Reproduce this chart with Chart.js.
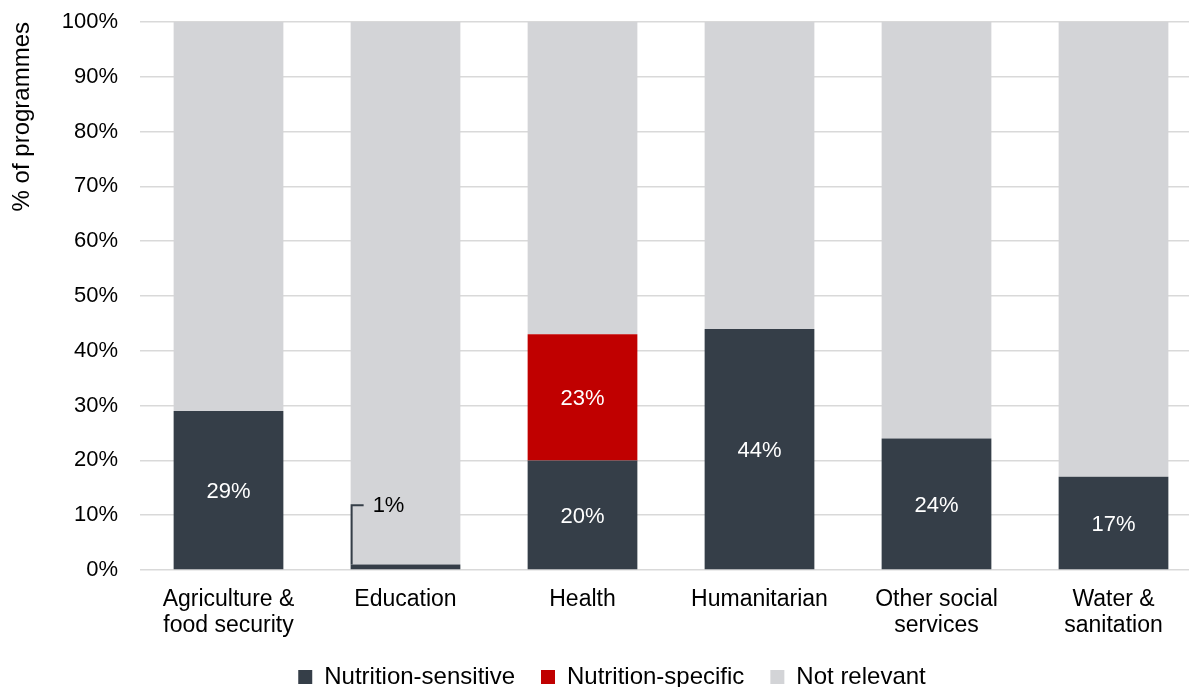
<!doctype html>
<html lang="en">
  <head>
    <meta charset="UTF-8" />
    <title>Programmes by sector</title>
    <style>
      html, body { margin: 0; padding: 0; background: #fff; overflow: hidden; }
      #wrap { width: 1202px; height: 699px; }
    </style>
  </head>
  <body>
    <div id="wrap">
      <canvas id="sectorChart" width="1202" height="699"></canvas>
    </div>
    <script src="https://cdn.jsdelivr.net/npm/chart.js"></script>
    <script>
      const sectors = [
        ["Agriculture &", "food security"],
        "Education",
        "Health",
        "Humanitarian",
        ["Other social", "services"],
        ["Water &", "sanitation"],
      ];
      const sensitive = [29, 1, 20, 44, 24, 17];
      const specific = [0, 0, 23, 0, 0, 0];
      const notRelevant = [71, 99, 57, 56, 76, 83];
      const yTicks = [0, 10, 20, 30, 40, 50, 60, 70, 80, 90, 100];

      const FONT = "'Liberation Sans', Arial, sans-serif";
      const DARK = "#353e48";
      const RED = "#c00000";
      const GREY = "#d3d4d7";

      // white % labels inside the segments, with a leader line for tiny ones
      const segmentLabels = {
        id: "segmentLabels",
        afterDatasetsDraw(chart) {
          const ctx = chart.ctx;
          ctx.save();
          ctx.font = "22px " + FONT;
          ctx.textBaseline = "middle";
          [0, 1].forEach((di) => {
            const meta = chart.getDatasetMeta(di);
            const values = chart.data.datasets[di].data;
            meta.data.forEach((bar, i) => {
              const v = values[i];
              if (!v) return;
              const text = Math.round(v) + "%";
              const h = Math.abs(bar.base - bar.y);
              if (h >= 24) {
                ctx.fillStyle = "#ffffff";
                ctx.textAlign = "center";
                ctx.fillText(text, bar.x, (bar.y + bar.base) / 2 + 2);
              } else {
                const left = bar.x - bar.width / 2 + 1;
                const ly = bar.base - 64;
                ctx.strokeStyle = DARK;
                ctx.lineWidth = 2;
                ctx.beginPath();
                ctx.moveTo(left, bar.y);
                ctx.lineTo(left, ly);
                ctx.lineTo(left + 12, ly);
                ctx.stroke();
                ctx.fillStyle = "#000000";
                ctx.textAlign = "left";
                ctx.fillText(text, left + 21, ly + 1);
              }
            });
          });
          ctx.restore();
        },
      };

      // nudge the legend row to the right a little
      const legendShift = {
        id: "legendShift",
        afterLayout(chart) {
          chart.legend.left += 7;
          chart.legend.right += 7;
        },
      };

      const ctx = document.getElementById("sectorChart").getContext("2d");
      new Chart(ctx, {
        type: "bar",
        data: {
          labels: sectors,
          datasets: [
            { label: "Nutrition-sensitive", data: sensitive, backgroundColor: DARK },
            { label: "Nutrition-specific", data: specific, backgroundColor: RED },
            { label: "Not relevant", data: notRelevant, backgroundColor: GREY },
          ],
        },
        options: {
          responsive: false,
          animation: false,
          devicePixelRatio: 1,
          categoryPercentage: 1,
          barPercentage: 0.62,
          layout: { padding: { top: 22, left: 8, right: 0, bottom: 0 } },
          plugins: {
            tooltip: { enabled: false },
            legend: {
              position: "bottom",
              labels: {
                color: "#000",
                font: { family: FONT, size: 24 },
                boxWidth: 14,
                boxHeight: 14,
                padding: 26,
              },
            },
          },
          scales: {
            x: {
              stacked: true,
              grid: { display: false, drawTicks: false },
              border: { display: false },
              ticks: {
                color: "#000",
                font: { family: FONT, size: 23, lineHeight: 1.13 },
                padding: 17,
                maxRotation: 0,
              },
              afterFit: (scale) => {
                scale.height = 69;
                scale.paddingLeft = 0;
                scale.paddingRight = 0;
              },
            },
            y: {
              stacked: true,
              min: 0,
              max: 100,
              afterBuildTicks: (axis) => {
                axis.ticks = yTicks.map((v) => ({ value: v }));
              },
              grid: { color: "#d9d9d9", lineWidth: 1.5, drawTicks: false },
              border: { display: false },
              ticks: {
                color: "#000",
                font: { family: FONT, size: 22 },
                padding: 22,
                callback: (v) => v + "%",
              },
              title: {
                display: true,
                text: "% of programmes",
                color: "#000",
                align: "end",
                font: { family: FONT, size: 24 },
                padding: { top: 0, bottom: 0 },
              },
              afterFit: (scale) => {
                scale.width = 132;
                scale.paddingTop = 0;
                scale.paddingBottom = 0;
              },
            },
          },
        },
        plugins: [segmentLabels, legendShift],
      });
    </script>
  </body>
</html>
